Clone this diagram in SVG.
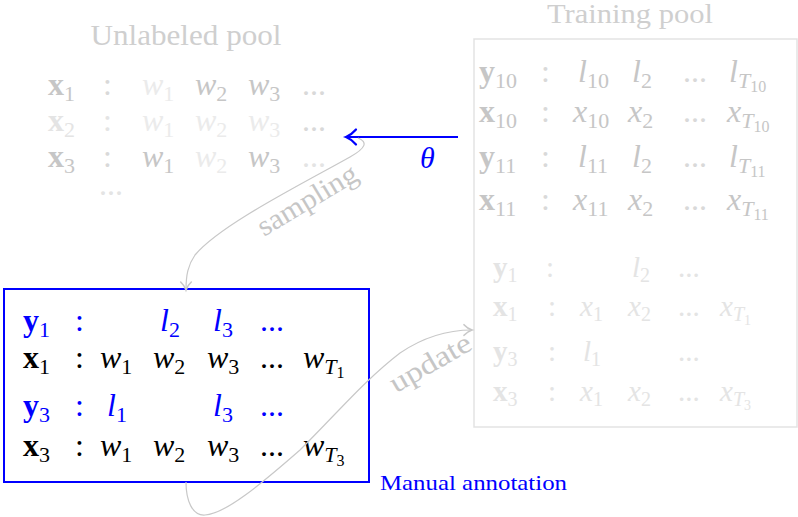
<svg xmlns="http://www.w3.org/2000/svg" width="798" height="517" viewBox="0 0 798 517">
<style>
text { font-family: "Liberation Serif", "DejaVu Serif", serif; }
.m { font-size: 32px; }
.m2 { font-size: 29px; }
.i { font-style: italic; }
.b { font-weight: bold; }
.n { font-style: normal; font-weight: normal; }
.s { font-size: 22px; }
.s2 { font-size: 20px; }
.ss { font-size: 16px; }
.ss2 { font-size: 14px; }
.title { font-size: 29px; fill: #cfcfcf; }
.g1 { fill: #c6c6c6; }
.g2 { fill: #d9d9d9; }
.g3 { fill: #ebebeb; }
.g4 { fill: #e4e4e4; }
.blue { fill: #0000ff; }
.k { fill: #000000; }
.curve { fill: none; stroke: #c8c8c8; stroke-width: 1.2; }
</style>
<defs>
<marker id="ah-blue" markerUnits="userSpaceOnUse" markerWidth="20" markerHeight="20" viewBox="-10 -8 12 16" refX="0" refY="0" orient="auto" overflow="visible">
<path d="M -8,-6 C -5,-2.5 -1.5,-0.6 0,0 C -1.5,0.6 -5,2.5 -8,6" fill="none" stroke="#0000ff" stroke-width="1.8" stroke-linecap="round"/>
</marker>
<marker id="ah-gray" markerUnits="userSpaceOnUse" markerWidth="16" markerHeight="16" viewBox="-8 -6 10 12" refX="0" refY="0" orient="auto" overflow="visible">
<path d="M -6,-4 C -4,-1.8 -1.2,-0.4 0,0 C -1.2,0.4 -4,1.8 -6,4" fill="none" stroke="#c8c8c8" stroke-width="1.2" stroke-linecap="round"/>
</marker>
</defs>
<rect width="798" height="517" fill="#ffffff"/>

<g id="unlabeled-pool">
<text class="title" x="186" y="45" text-anchor="middle" textLength="191" lengthAdjust="spacingAndGlyphs">Unlabeled pool</text>
<text class="m b g1" x="48" y="95">x<tspan class="s n" dy="6">1</tspan></text>
<text class="m g2" x="103" y="95">:</text>
<text class="m i g3" x="142" y="95">w<tspan class="s n" dy="6">1</tspan></text>
<text class="m i g1" x="195" y="95">w<tspan class="s n" dy="6">2</tspan></text>
<text class="m i g1" x="248" y="95">w<tspan class="s n" dy="6">3</tspan></text>
<text class="m g2" x="302" y="95">...</text>

<text class="m b g4" x="48" y="131">x<tspan class="s n" dy="6">2</tspan></text>
<text class="m g4" x="103" y="131">:</text>
<text class="m i g3" x="142" y="131">w<tspan class="s n" dy="6">1</tspan></text>
<text class="m i g3" x="195" y="131">w<tspan class="s n" dy="6">2</tspan></text>
<text class="m i g3" x="248" y="131">w<tspan class="s n" dy="6">3</tspan></text>
<text class="m g2" x="302" y="131">...</text>

<text class="m b g1" x="48" y="167">x<tspan class="s n" dy="6">3</tspan></text>
<text class="m g2" x="103" y="167">:</text>
<text class="m i g1" x="142" y="167">w<tspan class="s n" dy="6">1</tspan></text>
<text class="m i g3" x="195" y="167">w<tspan class="s n" dy="6">2</tspan></text>
<text class="m i g1" x="248" y="167">w<tspan class="s n" dy="6">3</tspan></text>
<text class="m g4" x="302" y="167">...</text>
<text class="m g4" x="99" y="195">...</text>
</g>

<g id="training-pool">
<text class="title" x="630" y="23" text-anchor="middle" font-size="27" style="font-size:27px" textLength="166" lengthAdjust="spacingAndGlyphs">Training pool</text>
<rect x="474" y="39" width="323" height="388" fill="none" stroke="#e3e3e3" stroke-width="1.5"/>
<text class="m b g1" x="479" y="82">y<tspan class="s n" dy="6">10</tspan></text>
<text class="m g2" x="541" y="82">:</text>
<text class="m i g1" x="578" y="82">l<tspan class="s n" dy="6">10</tspan></text>
<text class="m i g1" x="632" y="82">l<tspan class="s n" dy="6">2</tspan></text>
<text class="m g2" x="683" y="82">...</text>
<text class="m i g1" x="729" y="82">l<tspan class="s" dy="6">T</tspan><tspan class="ss n" dy="4">10</tspan></text>

<text class="m b g1" x="479" y="122">x<tspan class="s n" dy="6">10</tspan></text>
<text class="m g2" x="541" y="122">:</text>
<text class="m i g1" x="573" y="122">x<tspan class="s n" dy="6">10</tspan></text>
<text class="m i g1" x="628" y="122">x<tspan class="s n" dy="6">2</tspan></text>
<text class="m g2" x="683" y="122">...</text>
<text class="m i g1" x="727" y="122">x<tspan class="s" dy="6">T</tspan><tspan class="ss n" dy="4">10</tspan></text>

<text class="m b g1" x="479" y="167">y<tspan class="s n" dy="6">11</tspan></text>
<text class="m g2" x="541" y="167">:</text>
<text class="m i g1" x="578" y="167">l<tspan class="s n" dy="6">11</tspan></text>
<text class="m i g1" x="632" y="167">l<tspan class="s n" dy="6">2</tspan></text>
<text class="m g2" x="683" y="167">...</text>
<text class="m i g1" x="729" y="167">l<tspan class="s" dy="6">T</tspan><tspan class="ss n" dy="4">11</tspan></text>

<text class="m b g1" x="479" y="210">x<tspan class="s n" dy="6">11</tspan></text>
<text class="m g2" x="541" y="210">:</text>
<text class="m i g1" x="573" y="210">x<tspan class="s n" dy="6">11</tspan></text>
<text class="m i g1" x="628" y="210">x<tspan class="s n" dy="6">2</tspan></text>
<text class="m g2" x="683" y="210">...</text>
<text class="m i g1" x="727" y="210">x<tspan class="s" dy="6">T</tspan><tspan class="ss n" dy="4">11</tspan></text>

<text class="m2 b g4" x="493" y="277">y<tspan class="s2 n" dy="5">1</tspan></text>
<text class="m2 g4" x="546" y="277">:</text>
<text class="m2 i g4" x="632" y="277">l<tspan class="s2 n" dy="5">2</tspan></text>
<text class="m2 g4" x="678" y="277">...</text>

<text class="m2 b g4" x="493" y="316">x<tspan class="s2 n" dy="5">1</tspan></text>
<text class="m2 g4" x="548" y="316">:</text>
<text class="m2 i g4" x="580" y="316">x<tspan class="s2 n" dy="5">1</tspan></text>
<text class="m2 i g4" x="628" y="316">x<tspan class="s2 n" dy="5">2</tspan></text>
<text class="m2 g4" x="678" y="316">...</text>
<text class="m2 i g4" x="720" y="316">x<tspan class="s2" dy="5">T</tspan><tspan class="ss2 n" dy="4">1</tspan></text>

<text class="m2 b g4" x="493" y="361">y<tspan class="s2 n" dy="5">3</tspan></text>
<text class="m2 g4" x="548" y="361">:</text>
<text class="m2 i g4" x="583" y="361">l<tspan class="s2 n" dy="5">1</tspan></text>
<text class="m2 g4" x="678" y="361">...</text>

<text class="m2 b g4" x="493" y="401">x<tspan class="s2 n" dy="5">3</tspan></text>
<text class="m2 g4" x="548" y="401">:</text>
<text class="m2 i g4" x="580" y="401">x<tspan class="s2 n" dy="5">1</tspan></text>
<text class="m2 i g4" x="628" y="401">x<tspan class="s2 n" dy="5">2</tspan></text>
<text class="m2 g4" x="678" y="401">...</text>
<text class="m2 i g4" x="720" y="401">x<tspan class="s2" dy="5">T</tspan><tspan class="ss2 n" dy="4">3</tspan></text>
</g>

<g id="manual-annotation">
<rect x="4" y="289" width="365" height="193" fill="none" stroke="#0000ff" stroke-width="2"/>
<text class="m b blue" x="23" y="331">y<tspan class="s n" dy="6">1</tspan></text>
<text class="m blue" x="75" y="331">:</text>
<text class="m i blue" x="160" y="331">l<tspan class="s n" dy="6">2</tspan></text>
<text class="m i blue" x="213" y="331">l<tspan class="s n" dy="6">3</tspan></text>
<text class="m blue" x="260" y="331">...</text>

<text class="m b k" x="23" y="368">x<tspan class="s n" dy="6">1</tspan></text>
<text class="m k" x="75" y="368">:</text>
<text class="m i k" x="100" y="368">w<tspan class="s n" dy="6">1</tspan></text>
<text class="m i k" x="153" y="368">w<tspan class="s n" dy="6">2</tspan></text>
<text class="m i k" x="207" y="368">w<tspan class="s n" dy="6">3</tspan></text>
<text class="m k" x="260" y="368">...</text>
<text class="m i k" x="303" y="368">w<tspan class="s" dy="6">T</tspan><tspan class="ss n" dy="4">1</tspan></text>

<text class="m b blue" x="23" y="416">y<tspan class="s n" dy="6">3</tspan></text>
<text class="m blue" x="75" y="416">:</text>
<text class="m i blue" x="107" y="416">l<tspan class="s n" dy="6">1</tspan></text>
<text class="m i blue" x="213" y="416">l<tspan class="s n" dy="6">3</tspan></text>
<text class="m blue" x="260" y="416">...</text>

<text class="m b k" x="23" y="456">x<tspan class="s n" dy="6">3</tspan></text>
<text class="m k" x="75" y="456">:</text>
<text class="m i k" x="100" y="456">w<tspan class="s n" dy="6">1</tspan></text>
<text class="m i k" x="153" y="456">w<tspan class="s n" dy="6">2</tspan></text>
<text class="m i k" x="207" y="456">w<tspan class="s n" dy="6">3</tspan></text>
<text class="m k" x="260" y="456">...</text>
<text class="m i k" x="303" y="456">w<tspan class="s" dy="6">T</tspan><tspan class="ss n" dy="4">3</tspan></text>

<text class="blue" x="380" y="490" font-size="22" textLength="187" lengthAdjust="spacingAndGlyphs">Manual annotation</text>
</g>

<g id="connectors">
<line x1="458" y1="137" x2="346" y2="137" stroke="#0000ff" stroke-width="2" marker-end="url(#ah-blue)"/>
<text class="i blue" x="420" y="168" font-size="30">θ</text>
<path class="curve" d="M 358,138 C 368,142 366,148 350,157 C 300,185 220,225 195,255 C 188,265 186,275 186,290" marker-end="url(#ah-gray)"/>
<text class="g1" x="312" y="208" font-size="29" text-anchor="middle" textLength="112" lengthAdjust="spacingAndGlyphs" transform="rotate(-31 312 208)">sampling</text>
<path class="curve" d="M 186,482 C 186,500 192,516 205,515 C 225,514 260,485 300,450 C 340,410 365,380 400,353 C 425,336 450,330 472,330" marker-end="url(#ah-gray)"/>
<text class="g1" x="435" y="371" font-size="29" text-anchor="middle" textLength="90" lengthAdjust="spacingAndGlyphs" transform="rotate(-30 435 371)">update</text>
</g>
</svg>
